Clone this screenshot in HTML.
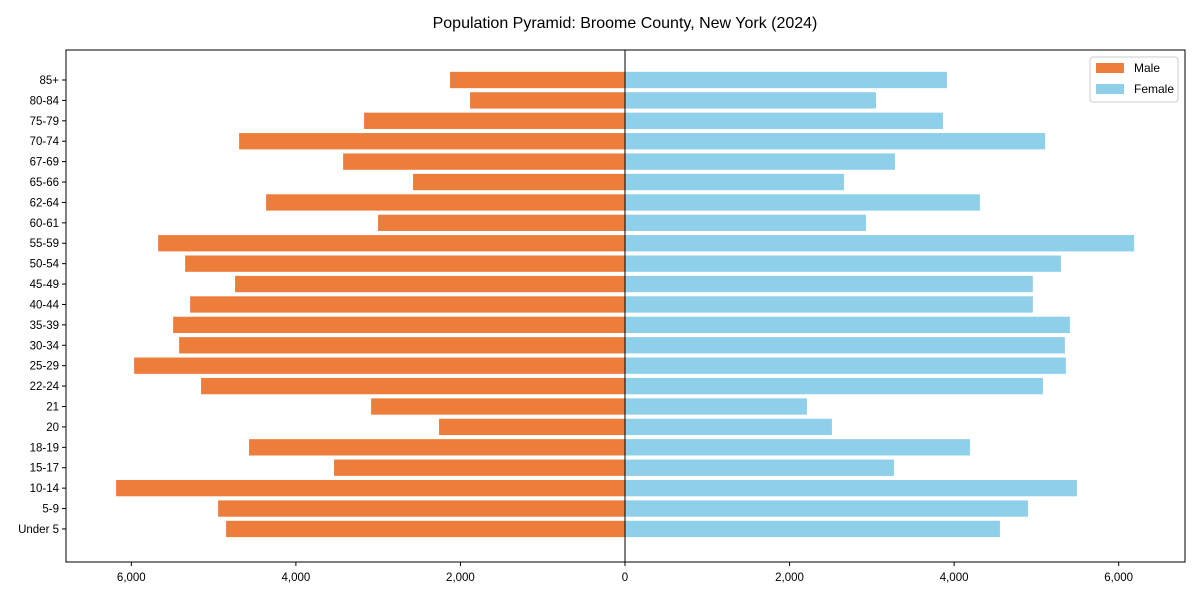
<!DOCTYPE html>
<html><head><meta charset="utf-8"><style>
body{margin:0;background:#fff;font-family:"Liberation Sans",Arial,sans-serif;}
svg text{font-family:"Liberation Sans",Arial,sans-serif;}
</style></head><body>
<svg id="chart" width="1200" height="600" xmlns="http://www.w3.org/2000/svg">
<rect width="1200" height="600" fill="#fff"/>
<text x="625" y="28" text-anchor="middle" font-size="16" fill="#000">Population Pyramid: Broome County, New York (2024)</text>
<g id="bars"></g>
<g id="axes"></g>
</svg>
<script>
const categories=["Under 5","5-9","10-14","15-17","18-19","20","21","22-24","25-29","30-34","35-39","40-44","45-49","50-54","55-59","60-61","62-64","65-66","67-69","70-74","75-79","80-84","85+"];
const maleValues=[4848,4945,6185,3536,4569,2260,3086,5152,5966,5419,5492,5285,4739,5346,5674,3001,4362,2576,3426,4690,3171,1883,2126];
const femaleValues=[4557,4897,5492,3269,4192,2515,2211,5079,5358,5346,5407,4957,4957,5298,6188,2928,4313,2661,3281,5106,3864,3050,3912];
const xTicks=[-6000,-4000,-2000,0,2000,4000,6000];
const xTickLabels=["6,000","4,000","2,000","0","2,000","4,000","6,000"];

const L=66,R=1185,T=50,B=562,xMin=-6800,xMax=6800,yMin=-1.62,yMax=23.47;
const x=v=>L+(v-xMin)/(xMax-xMin)*(R-L)-0.5;
const y=i=>B-(i-yMin)/(yMax-yMin)*(B-T);
const bh=0.8*(y(0)-y(1));
const NS="http://www.w3.org/2000/svg";
const bars=document.getElementById('bars'),axes=document.getElementById('axes');
function mk(tag,attrs,parent){const e=document.createElementNS(NS,tag);for(const k in attrs)e.setAttribute(k,attrs[k]);parent.appendChild(e);return e;}
categories.forEach((c,i)=>{
  const m=mk('rect',{x:x(-maleValues[i]),y:y(i)-bh/2,width:x(0)-x(-maleValues[i]),height:bh,fill:'#ed7d3a'},bars);
  
  
  const f=mk('rect',{x:x(0),y:y(i)-bh/2,width:x(femaleValues[i])-x(0),height:bh,fill:'#8ecfea'},bars);
  
  
  mk('line',{x1:L-4,x2:L,y1:y(i),y2:y(i),stroke:'#000'},axes);
  const t=mk('text',{x:L-7,y:y(i)+4,'text-anchor':'end','font-size':11.5},axes);
  t.textContent=c;
  
  
});
xTicks.forEach((v,i)=>{
  mk('line',{x1:x(v),x2:x(v),y1:B,y2:B+4,stroke:'#000'},axes);
  const t=mk('text',{x:x(v),y:B+19,'text-anchor':'middle','font-size':11.5},axes);
  t.textContent=xTickLabels[i];
  
  
});
mk('line',{x1:x(0),x2:x(0),y1:T,y2:B,stroke:'#000','stroke-width':1},axes);
const fr=mk('rect',{x:L,y:T,width:R-L,height:B-T,fill:'none',stroke:'#000','stroke-width':1},axes);


const lg=mk('g',{},axes);


mk('rect',{x:1090,y:57,width:88,height:45,fill:'#fff',stroke:'#ccc',rx:3},lg);
mk('rect',{x:1096,y:63,width:28,height:10,fill:'#ed7d3a'},lg);
const t1=mk('text',{x:1134,y:72,'font-size':12},lg);t1.textContent='Male';


mk('rect',{x:1096,y:84,width:28,height:10,fill:'#8ecfea'},lg);
const t2=mk('text',{x:1134,y:93,'font-size':12},lg);t2.textContent='Female';


</script>
</body></html>
